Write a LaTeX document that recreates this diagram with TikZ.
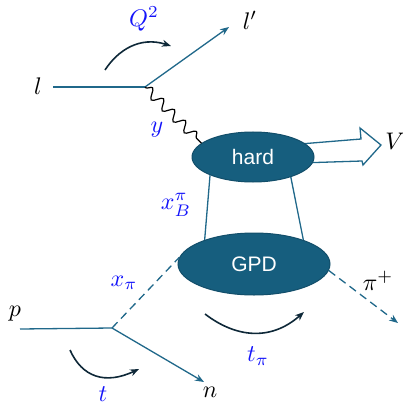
\documentclass[tikz,border=0pt]{standalone}
\usepackage{fontspec}
\usepackage{graphicx}
\newfontfamily\blobfont{Liberation Sans}
\usetikzlibrary{shapes.geometric,arrows.meta,decorations.pathmorphing}
\definecolor{teal1}{RGB}{32,104,138}
\definecolor{blobfill}{RGB}{22,94,126}
\definecolor{blobedge}{RGB}{18,78,106}
\definecolor{darkarr}{RGB}{14,40,56}
\definecolor{lblue}{RGB}{20,20,250}
\newcommand{\mylabmath}[1]{\scalebox{2.4}{$#1$}}
\tikzset{
  lab/.style={inner sep=0pt},
  blab/.style={lab, text=lblue},
  blob/.style={ellipse, draw=blobedge, line width=1pt, fill=blobfill, text=white, inner sep=0pt, font=\blobfont\fontsize{21}{25}\selectfont},
  fline/.style={draw=teal1, line width=1.3pt},
  farrow/.style={fline, -{Stealth[length=9pt,width=7pt]}},
  dline/.style={fline, dash pattern=on 8pt off 5pt},
  kin/.style={draw=darkarr, line width=1.6pt, -{Stealth[length=9pt,width=7pt]}},
}
\begin{document}
\begin{tikzpicture}[x=1pt,y=-1pt]
\useasboundingbox (0,0) rectangle (403,406);
% vertices and free ends
\coordinate (lin) at (53,87);
\coordinate (lv) at (145,87);
\coordinate (lout) at (229,27);
\coordinate (pin) at (20,329);
\coordinate (pv) at (112,328);
\coordinate (nout) at (204,382);
\coordinate (piout) at (398,323);
% V arrow
\draw[draw=teal1, fill=white, line width=1.3pt, line join=miter]
  (300,144) -- (361,139) -- (360,128) -- (381,145) -- (363,165) -- (362,161) -- (300,163) -- cycle;
% blobs
\node[blob, minimum width=122pt, minimum height=50pt] (hard) at (253,157) {hard};
\node[blob, minimum width=152pt, minimum height=62pt] (gpd) at (254,264) {GPD};
% connectors
\draw[fline] (lin) -- (lv);
\draw[farrow] (lv) -- (lout);
\draw[black, line width=1.2pt, decorate, decoration={snake, segment length=15.5pt, amplitude=4.8pt, pre length=1pt, post length=1pt}] (lv) -- (hard.165);
\draw[fline] (hard.203) -- (gpd.154);
\draw[fline] (hard.332) -- (gpd.26);
\draw[fline] (pin) -- (pv);
\draw[farrow] (pv) -- (nout);
\draw[dline] (pv) -- (gpd.175);
\draw[dline, -{Stealth[length=9pt,width=7pt]}] (gpd.355) -- (piout);
% kinematic arrows
\coordinate (qa) at (105,70); \coordinate (qb) at (171,46);
\draw[kin] (qa) .. controls (118,50) and (140,36) .. (qb);
\coordinate (ta) at (70,350); \coordinate (tb) at (139,369);
\draw[kin] (ta) .. controls (82,377) and (105,385) .. (tb);
\coordinate (tpa) at (205,314); \coordinate (tpb) at (304,312);
\draw[kin] (tpa) .. controls (235,337) and (270,342) .. (tpb);
% labels
\node[lab] (ll) at (38,86) {\mylabmath{l}};
\node[lab] (llp) at (250,20) {\mylabmath{l'}};
\node[blab] (q2) at (144,19) {\mylabmath{Q^2}};
\node[blab] (yl) at (157,130) {\mylabmath{y}};
\node[lab] (vl) at (395,141) {\mylabmath{V}};
\node[blab] (xb) at (176,205) {\mylabmath{x_B^\pi}};
\node[blab] (xpi) at (124,283) {\mylabmath{x_\pi}};
\node[lab] (pl) at (15,314) {\mylabmath{p}};
\node[lab] (pipl) at (378,281) {\mylabmath{\pi^+}};
\node[blab] (tpil) at (258,356) {\mylabmath{t_\pi}};
\node[blab] (tl) at (103,394) {\mylabmath{t}};
\node[lab] (nl) at (210,392) {\mylabmath{n}};
\end{tikzpicture}
\end{document}
